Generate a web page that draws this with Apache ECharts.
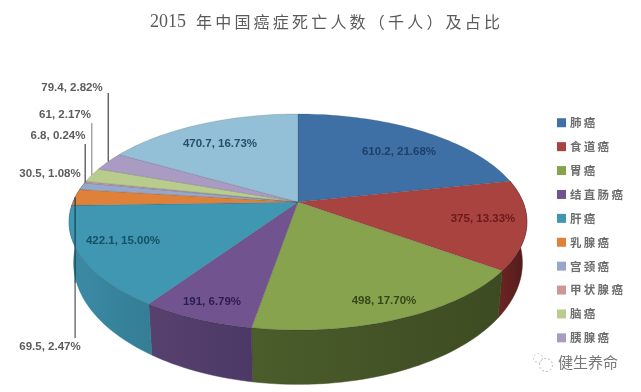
<!DOCTYPE html>
<html>
<head>
<meta charset="utf-8">
<style>
html,body{margin:0;padding:0;background:#fff}
#c{width:641px;height:392px;filter:blur(0.45px)}
</style>
<script src="https://cdn.jsdelivr.net/npm/echarts@6/dist/echarts.min.js"></script>
</head>
<body>
<div id="c"></div>
<script>
// ---- data ----
const categories = ['肺癌','食道癌','胃癌','结直肠癌','肝癌','乳腺癌','宫颈癌','甲状腺癌','脑癌','胰腺癌','其他'];
const values = [610.2,375,498,191,422.1,69.5,30.5,6.8,61,79.4,470.7];
const percents = ['21.68%','13.33%','17.70%','6.79%','15.00%','2.47%','1.08%','0.24%','2.17%','2.82%','16.73%'];
const legendNames = categories.slice(0,10);
const titleYear = '2015';
const titleRest = '年中国癌症死亡人数（千人）及占比';

// ---- styles ----
const topColors = ['#3e70a6','#a9433f','#87a34e','#71538f','#3f97b2','#e0813a','#95a7cb','#ce9797','#b8cc8e','#aa9bc3','#93c0d6'];
const wallColors = [['#2b4f77','#2b4f77'],['#6e2624','#4f1a19'],['#4b5d2b','#3d4b22'],['#57426f','#4c3864'],['#3b8ba5','#347d95'],['#9a5826','#9a5826'],['#6a7a98','#6a7a98'],['#926a6a','#926a6a'],['#83925f','#83925f'],['#766a8a','#766a8a'],['#6a8da0','#6a8da0']];
const labelColors = ['#1d3f6b','#6b1a1a','#36461b','#2c1d4b','#164f66','#5c5c5c','#5c5c5c','#5c5c5c','#5c5c5c','#5c5c5c','#24506b'];
const labelCenters = [[399,152],[483,219],[384,301],[212,302],[123,241],[50,347],[50,174],[58,136],[65,115],[72,88],[220,144]];
const leaders = {5:{endY:338,stroke:'#6a6a6a',overY:283,over:'#1d4a5e'},7:{endY:144,stroke:'#5e5e5e'},8:{endY:123,stroke:'#a0a0a0'},9:{endY:93,stroke:'#5e5e5e'}};

// ---- perspective disc ----
const CX=298, CY=202, R=225, H=104.3, K=0.185;
function project(deg, r){
  const a=deg*Math.PI/180, x=Math.sin(a)*r, y=Math.cos(a)*r, w=1+K*y;
  return [CX+R*x/w, CY-H*y/w];
}
function extrude(p){
  const d=47+0.125*(p[1]-271);
  return [CX+(p[0]-CX)*0.98, p[1]+d];
}
const total=values.reduce((s,v)=>s+v,0);
let acc=0;
const spans=values.map(v=>{const s=acc/total*360; acc+=v; return [s,acc/total*360];});
function arc(a,b){
  const n=Math.max(2,Math.ceil((b-a)/1.5)), pts=[];
  for(let i=0;i<=n;i++) pts.push(project(a+(b-a)*i/n,1));
  return pts;
}
function renderSlice(i){
  const [a,b]=spans[i], kids=[];
  const wa=Math.max(a,78), wb=Math.min(b,282);
  if(wb>wa){
    const top=arc(wa,wb), low=top.map(extrude).reverse();
    kids.push({type:'polygon',z2:1,shape:{points:top.concat(low)},style:{
      fill:new echarts.graphic.LinearGradient(0,0,1,0,[{offset:0,color:wallColors[i][0]},{offset:1,color:wallColors[i][1]}]),
      stroke:wallColors[i][1],lineWidth:0.5}});
  }
  kids.push({type:'polygon',z2:10,shape:{points:[[CX,CY]].concat(arc(a,b))},style:{fill:topColors[i],stroke:'rgba(50,50,60,0.28)',lineWidth:0.6}});
  const L=leaders[i];
  if(L){
    const p=project((a+b)/2,1);
    const st=L.overY?new echarts.graphic.LinearGradient(0,0,0,1,[
      {offset:0,color:L.over},{offset:(L.overY-p[1])/(L.endY-p[1]),color:L.over},
      {offset:(L.overY-p[1])/(L.endY-p[1])+0.001,color:L.stroke},{offset:1,color:L.stroke}]):L.stroke;
    kids.push({type:'polygon',z2:15,shape:{points:[[p[0]-0.7,p[1]],[p[0]+0.7,p[1]],[p[0]+0.7,L.endY],[p[0]-0.7,L.endY]]},style:{fill:st}});
  }
  kids.push({type:'text',z2:20,x:labelCenters[i][0],y:labelCenters[i][1],style:{
    text:values[i]+', '+percents[i],fill:labelColors[i],align:'center',verticalAlign:'middle',
    font:'bold 11.5px "Liberation Sans", Arial, sans-serif'}});
  return {type:'group',children:kids};
}
const spaced=s=>s.split('').join('\u2009');
const chart=echarts.init(document.getElementById('c'),null,{width:641,height:392});
chart.setOption({
  animation:false,
  backgroundColor:'#fff',
  title:{
    text:'{a|'+titleYear+'}  {b|'+titleRest.split('').join('\u2009')+'}',
    left:145, top:8,
    textStyle:{fontWeight:'normal',rich:{
      a:{fontFamily:'"Liberation Serif",serif',fontSize:18,color:'#5a5a5a',fontWeight:'normal'},
      b:{fontFamily:'"Noto Sans CJK SC",sans-serif',fontSize:16,color:'#5a5a5a',fontWeight:'normal'}
    }}
  },
  legend:{
    orient:'vertical',left:557,top:117,padding:0,
    data:legendNames,
    icon:'rect',itemWidth:9,itemHeight:9,itemGap:12.4,
    formatter:n=>spaced(n),
    textStyle:{fontFamily:'"Noto Sans CJK SC",sans-serif',fontSize:11.5,fontWeight:'bold',color:'#6e6e6e',padding:[0,0,0,-1]},
    selectedMode:false
  },
  graphic:[
    {type:'text',left:558,top:355,style:{text:'健生养命',fill:'#777',font:'15px "Noto Sans CJK SC",sans-serif'}},
    {type:'circle',shape:{cx:546,cy:365,r:6.5},style:{fill:'none',stroke:'#aaa',lineWidth:0.8,lineDash:[2,2]}},
    {type:'circle',shape:{cx:538,cy:358,r:4.5},style:{fill:'none',stroke:'#bbb',lineWidth:0.8,lineDash:[2,2]}}
  ],
  series:categories.map((name,i)=>({
    type:'custom',name,coordinateSystem:'none',silent:true,
    itemStyle:{color:topColors[i]},
    data:[[values[i]]],
    renderItem:()=>renderSlice(i)
  }))
});
</script>
</body>
</html>
